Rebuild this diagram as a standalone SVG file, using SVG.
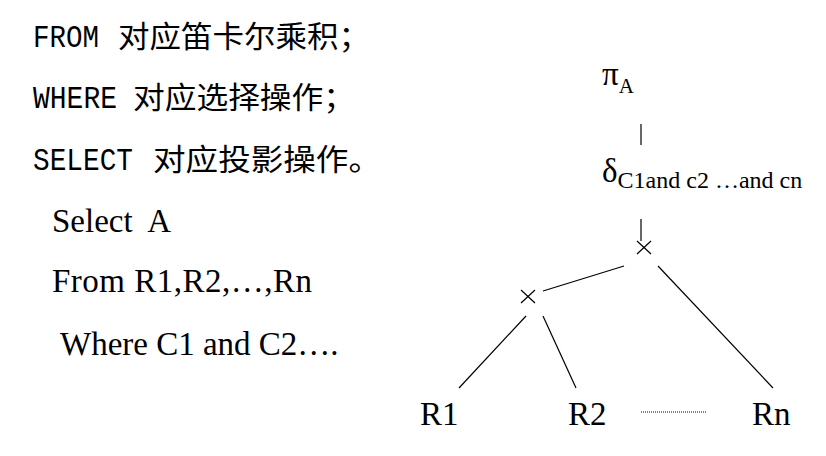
<svg xmlns="http://www.w3.org/2000/svg" width="826" height="456" viewBox="0 0 826 456">
<style>
.mono{font-family:"Liberation Mono",monospace;font-size:31px;fill:#000}
.cjk{font-family:"Noto Sans CJK SC","Noto Sans CJK JP",sans-serif;font-size:30px;fill:#000}
.ser{font-family:"Liberation Serif","Times New Roman",serif;fill:#000}
.edge{stroke:#000;stroke-width:1.2;fill:none}
</style>
<rect width="826" height="456" fill="#fff"/>
<g id="notes">
<text class="mono" x="33" y="47" textLength="66" lengthAdjust="spacingAndGlyphs">FROM</text>
<text class="cjk" x="118" y="47" textLength="252" lengthAdjust="spacingAndGlyphs">对应笛卡尔乘积；</text>
<text class="mono" x="33" y="108" textLength="84" lengthAdjust="spacingAndGlyphs">WHERE</text>
<text class="cjk" x="133" y="108" textLength="222" lengthAdjust="spacingAndGlyphs">对应选择操作；</text>
<text class="mono" x="33" y="170" textLength="100" lengthAdjust="spacingAndGlyphs">SELECT</text>
<text class="cjk" x="153" y="170" textLength="228" lengthAdjust="spacingAndGlyphs">对应投影操作。</text>
</g>
<g id="sql">
<text class="ser" x="52" y="232" font-size="33" xml:space="preserve">Select  A</text>
<text class="ser" x="52" y="292" font-size="33" textLength="260">From R1,R2,…,Rn</text>
<text class="ser" x="60" y="355" font-size="33">Where C1 and C2….</text>
</g>
<g id="connectors">
<line class="edge" x1="641" y1="124" x2="641" y2="145"/>
<line class="edge" x1="641" y1="219" x2="641" y2="241"/>
<line class="edge" x1="624" y1="266" x2="543" y2="291"/>
<line class="edge" x1="658" y1="266" x2="773" y2="388"/>
<line class="edge" x1="526" y1="316" x2="459" y2="388"/>
<line class="edge" x1="543" y1="316" x2="576" y2="388"/>
<line x1="641" y1="412" x2="707" y2="412" stroke="#000" stroke-width="1" stroke-dasharray="1 1"/>
</g>
<g id="node-pi">
<text class="ser" x="602" y="85" font-size="33">π<tspan font-size="21" dy="8">A</tspan></text>
</g>
<g id="node-sigma">
<text class="ser" x="602" y="182" font-size="33">δ<tspan font-size="24" dy="6">C1and c2 …and cn</tspan></text>
</g>
<g id="node-x1">
<line class="edge" x1="637" y1="241" x2="651" y2="254"/>
<line class="edge" x1="651" y1="241" x2="637" y2="254"/>
</g>
<g id="node-x2">
<line class="edge" x1="521" y1="290" x2="535" y2="303"/>
<line class="edge" x1="535" y1="290" x2="521" y2="303"/>
</g>
<g id="node-r1"><text class="ser" x="420" y="425" font-size="33">R1</text></g>
<g id="node-r2"><text class="ser" x="568" y="425" font-size="33">R2</text></g>
<g id="node-rn"><text class="ser" x="752" y="425" font-size="33">Rn</text></g>
</svg>
